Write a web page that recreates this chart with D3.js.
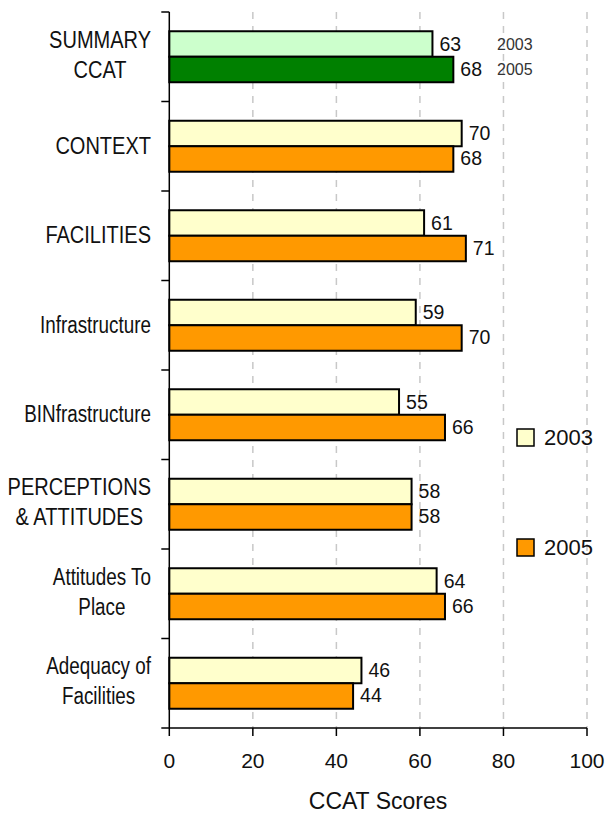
<!DOCTYPE html>
<html><head><meta charset="utf-8">
<script src="https://cdn.jsdelivr.net/npm/d3@7"></script>
<style>body{margin:0;background:#fff}svg{display:block}</style>
</head><body>
<svg id="c" width="608" height="814"></svg>
<script>
const categories = [
  ["SUMMARY","CCAT"],
  ["CONTEXT"],
  ["FACILITIES"],
  ["Infrastructure"],
  ["BINfrastructure"],
  ["PERCEPTIONS","& ATTITUDES"],
  ["Attitudes To","Place"],
  ["Adequacy of","Facilities"]
];
const series = ["2003","2005"];
const values2003 = [63,70,61,59,55,58,64,46];
const values2005 = [68,68,71,70,66,58,66,44];
const xTicks = [0,20,40,60,80,100];
const colors = {"2003":"#FFFFCC","2005":"#FF9900"};
const summaryColors = {"2003":"#CCFFCC","2005":"#008000"};
const xTitle = "CCAT Scores";

const svg = d3.select("#c");
const pL = 169.3, pR = 587, pT = 12, pB = 728;
const font = "'Liberation Sans',Arial,sans-serif";
const x = d3.scaleLinear().domain([0,100]).range([pL,pR]);
const y = d3.scaleBand().domain(d3.range(categories.length)).range([pT,pB]).paddingInner(0).paddingOuter(0);
const ys = d3.scaleBand().domain(series).range([0,y.bandwidth()]).paddingInner(0).paddingOuter(0.755);

// gridlines
svg.append("g").selectAll("line").data(xTicks.filter(d=>d>0)).join("line")
  .attr("x1",d=>x(d)).attr("x2",d=>x(d)).attr("y1",pT).attr("y2",pB)
  .attr("stroke","#c8c8c8").attr("stroke-width",1.5).attr("stroke-dasharray","7,7");

const data = [];
categories.forEach((c,i)=>{
  data.push({i, s:"2003", v:values2003[i]});
  data.push({i, s:"2005", v:values2005[i]});
});

// bars
svg.append("g").selectAll("rect").data(data).join("rect")
  .attr("x",x(0)).attr("y",d=>y(d.i)+ys(d.s))
  .attr("width",d=>x(d.v)-x(0)).attr("height",ys.bandwidth())
  .attr("fill",d=>d.i===0?summaryColors[d.s]:colors[d.s])
  .attr("stroke","#000").attr("stroke-width",2);

// value labels
svg.append("g").selectAll("text").data(data).join("text")
  .attr("x",d=>x(d.v)+7).attr("y",d=>y(d.i)+ys(d.s)+ys.bandwidth()/2+6.5)
  .attr("font-family",font).attr("font-size",19.5).attr("fill","#111")
  .text(d=>d.v);

// summary annotations
svg.append("g").selectAll("text").data(series).join("text")
  .attr("x",497).attr("y",d=>y(0)+ys(d)+ys.bandwidth()/2+5.5)
  .attr("font-family",font).attr("font-size",16).attr("fill","#333")
  .text(d=>d);

// left axis
const ax = svg.append("g");
ax.append("line").attr("x1",pL).attr("x2",pL).attr("y1",pT).attr("y2",pB).attr("stroke","#000").attr("stroke-width",1.5);
ax.selectAll(".yt").data(d3.range(categories.length+1)).join("line")
  .attr("x1",pL-8).attr("x2",pL).attr("y1",d=>pT+d*y.step()).attr("y2",d=>pT+d*y.step())
  .attr("stroke","#000").attr("stroke-width",1.5);

// category labels (condensed)
categories.forEach((lines,i)=>{
  const c = y(i)+y.bandwidth()/2;
  const g = svg.append("g");
  const ts = lines.map((t,k)=>{
    const sx = (t===t.toUpperCase()) ? 0.87 : 0.82;
    const el = g.append("text").attr("font-family",font).attr("font-size",23).attr("fill","#111")
      .attr("text-anchor","middle").text(t);
    return {el, sx, yy: lines.length===1 ? c+7.5 : c-9+k*30};
  });
  const w = d3.max(ts,t=>t.el.node().getComputedTextLength()*t.sx);
  ts.forEach(t=>t.el.attr("transform",`translate(${151-w/2},${t.yy}) scale(${t.sx},1)`));
});

// bottom axis
const bx = svg.append("g");
bx.append("line").attr("x1",pL).attr("x2",pR).attr("y1",pB).attr("y2",pB).attr("stroke","#000").attr("stroke-width",1.5);
bx.selectAll(".xt").data(xTicks).join("line")
  .attr("x1",d=>x(d)).attr("x2",d=>x(d)).attr("y1",pB).attr("y2",pB+8)
  .attr("stroke","#000").attr("stroke-width",1.5);
bx.selectAll("text").data(xTicks).join("text")
  .attr("x",d=>x(d)).attr("y",768).attr("text-anchor","middle")
  .attr("font-family",font).attr("font-size",21).attr("fill","#111")
  .text(d=>d);
svg.append("text").attr("x",378).attr("y",809).attr("text-anchor","middle")
  .attr("font-family",font).attr("font-size",23).attr("fill","#111")
  .text(xTitle);

// legend
const lg = svg.append("g").selectAll("g").data(series).join("g")
  .attr("transform",(d,i)=>`translate(517,${429+i*110})`);
lg.append("rect").attr("width",17).attr("height",17).attr("fill",d=>colors[d]).attr("stroke","#000").attr("stroke-width",1.5);
lg.append("text").attr("x",27).attr("y",16).attr("font-family",font).attr("font-size",22).attr("fill","#111").text(d=>d);
</script>
</body></html>
